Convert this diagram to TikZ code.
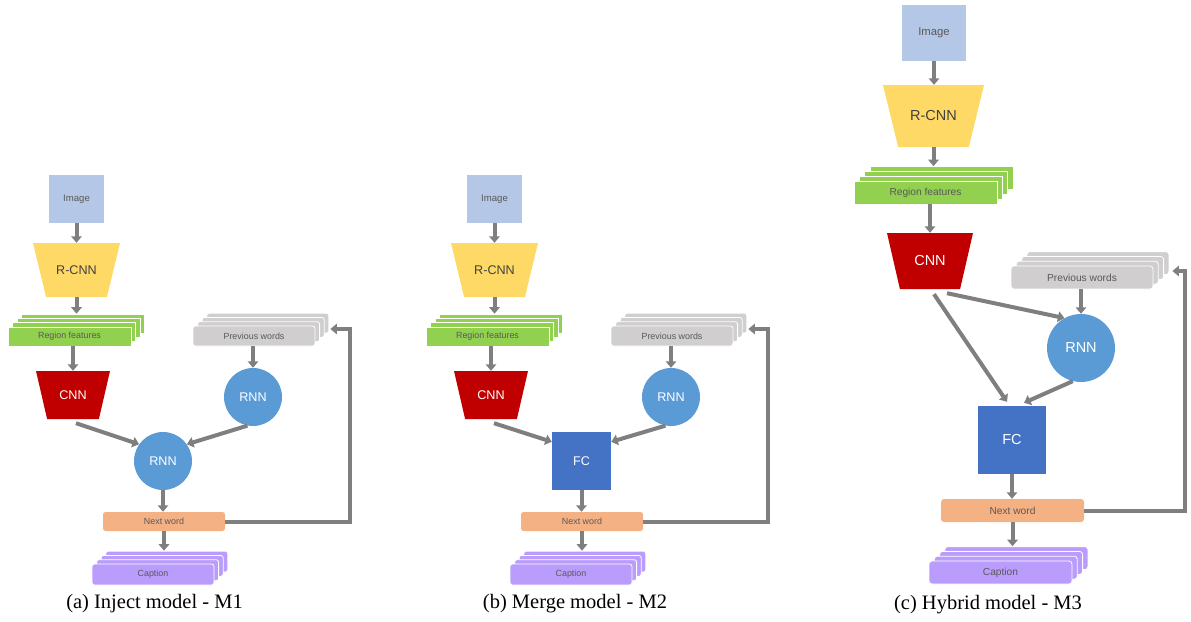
\documentclass[tikz,border=0pt]{standalone}
\usepackage{fontspec}
\setmainfont{Liberation Serif}
\newfontfamily\diagfont{Liberation Sans}
\usetikzlibrary{arrows.meta,calc,shadows}
\definecolor{arrgray}{RGB}{127,127,127}
\definecolor{imgblue}{RGB}{180,199,231}
\definecolor{rcnnyellow}{RGB}{255,217,102}
\definecolor{featgreen}{RGB}{146,208,80}
\definecolor{cnnred}{RGB}{192,0,0}
\definecolor{wordgray}{RGB}{208,206,206}
\definecolor{rnnblue}{RGB}{91,155,213}
\definecolor{fcblue}{RGB}{68,114,196}
\definecolor{nextorange}{RGB}{244,177,131}
\definecolor{capviolet}{RGB}{186,156,252}
\definecolor{txtgray}{RGB}{89,89,89}
\tikzset{
  arr/.style={-{Triangle[length=6.5pt,width=10.5pt]},line width=4pt,draw=arrgray},
  imgbox/.style={fill=imgblue,inner sep=0pt,text=txtgray},
  trap/.style={inner sep=0pt,path picture={
    \fill[#1] (path picture bounding box.north west) -- (path picture bounding box.north east)
      -- ($(path picture bounding box.south east)!0.15!(path picture bounding box.south west)$)
      -- ($(path picture bounding box.south west)!0.15!(path picture bounding box.south east)$) -- cycle;}},
  rcnn/.style={trap=rcnnyellow,text=black!75},
  cnn/.style={trap=cnnred,text=white},
  rnn/.style={circle,fill=rnnblue,text=white,inner sep=0pt},
  fc/.style={fill=fcblue,text=white,inner sep=0pt},
  nextw/.style={fill=nextorange,rounded corners=2.5pt,text=txtgray,inner sep=0pt},
  stackA/.style={fill=#1,draw=white,line width=0.8pt,inner sep=0pt,text=txtgray,
    copy shadow={shadow xshift=13.8pt,shadow yshift=12.9pt,fill=#1,draw=white},
    copy shadow={shadow xshift=9.2pt,shadow yshift=8.6pt,fill=#1,draw=white},
    copy shadow={shadow xshift=4.6pt,shadow yshift=4.3pt,fill=#1,draw=white}},
  stackC/.style={fill=#1,draw=white,line width=0.8pt,inner sep=0pt,text=txtgray,
    copy shadow={shadow xshift=15.9pt,shadow yshift=14.4pt,fill=#1,draw=white},
    copy shadow={shadow xshift=10.6pt,shadow yshift=9.6pt,fill=#1,draw=white},
    copy shadow={shadow xshift=5.3pt,shadow yshift=4.8pt,fill=#1,draw=white}},
  smA/.style={font=\diagfont\fontsize{8.9}{10}\selectfont},
  lgA/.style={font=\diagfont\fontsize{12.6}{14}\selectfont},
  imA/.style={font=\diagfont\fontsize{9.6}{11}\selectfont},
  smC/.style={font=\diagfont\fontsize{10.2}{12}\selectfont},
  lgC/.style={font=\diagfont\fontsize{14.5}{16}\selectfont},
  imC/.style={font=\diagfont\fontsize{11.3}{13}\selectfont},
  sub/.style={font=\fontsize{20.5}{24}\selectfont}
}
\begin{document}
\begin{tikzpicture}[x=1pt,y=-1pt]
  \useasboundingbox (0,0) rectangle (1191,621);

  % (a) and (b): same column, shifted
  \foreach \p/\dx in {A/0,B/418}{
    \node[imgbox,imA,minimum width=55pt,minimum height=48pt] (img\p) at (76.5+\dx,199) {Image};
    \node[rcnn,lgA,minimum width=87pt,minimum height=54pt] (rcnn\p) at (76.5+\dx,270) {R-CNN};
    \node[stackA=featgreen,smA,minimum width=123pt,minimum height=19pt] (rf\p) at (69.5+\dx,336.5) {Region features};
    \node[cnn,lgA,minimum width=74pt,minimum height=48pt] (cnn\p) at (73+\dx,395) {CNN};
    \node[stackA=wordgray,rounded corners=2.5pt,smA,minimum width=122pt,minimum height=20pt] (pw\p) at (254+\dx,336) {Previous words};
    \node[rnn,lgA,minimum size=58pt] (rnnp\p) at (253+\dx,397) {RNN};
    \node[nextw,smA,minimum width=122pt,minimum height=19pt] (nw\p) at (164+\dx,521.5) {Next word};
    \node[stackA=capviolet,rounded corners=2.5pt,smA,minimum width=122pt,minimum height=21pt] (cap\p) at (153+\dx,574.5) {Caption};

    \draw[arr] (img\p) -- (img\p |- rcnn\p.north);
    \draw[arr,shorten >=12.9pt] (rcnn\p) -- (rcnn\p |- rf\p.north);
    \draw[arr] (cnn\p |- rf\p.south) -- (cnn\p);
    \draw[arr] (rnnp\p |- pw\p.south) -- (rnnp\p);
    \draw[arr,shorten >=12.9pt] (nw\p) -- (nw\p |- cap\p.north);
    \draw[arr] (nw\p.east) -| ([xshift=35pt,yshift=7pt]pw\p.east) -- ([xshift=15pt,yshift=7pt]pw\p.east);
  }

  % (a) inject
  \node[rnn,lgA,minimum size=58pt] (rnnA) at (163,461) {RNN};
  \draw[arr] ([xshift=3pt,yshift=-4pt]cnnA.south) -- (rnnA.145);
  \draw[arr] (rnnpA.-101) -- (rnnA.35);
  \draw[arr] (rnnA) -- (rnnA |- nwA.north);
  \node[sub] (subA) at (154.5,604) {(a) Inject model - M1};

  % (b) merge
  \node[fc,lgA,minimum width=59pt,minimum height=58pt] (fcB) at (581.5,461) {FC};
  \draw[arr] ([xshift=3pt,yshift=-4pt]cnnB.south) -- ([yshift=-10pt]fcB.north west);
  \draw[arr] (rnnpB.-101) -- ([yshift=-10pt]fcB.north east);
  \draw[arr] (fcB) -- (fcB |- nwB.north);
  \node[sub] (subB) at (575,604) {(b) Merge model - M2};

  % (c) hybrid
  \node[imgbox,imC,minimum width=64pt,minimum height=56pt] (imgC) at (934,33) {Image};
  \node[rcnn,lgC,minimum width=101pt,minimum height=62pt] (rcnnC) at (933.5,116) {R-CNN};
  \node[stackC=featgreen,smC,minimum width=143pt,minimum height=23pt] (rfC) at (925.5,192.5) {Region features};
  \node[cnn,lgC,minimum width=86pt,minimum height=56pt] (cnnC) at (930,261) {CNN};
  \node[stackC=wordgray,rounded corners=3pt,smC,minimum width=142pt,minimum height=23pt] (pwC) at (1082,277.5) {Previous words};
  \node[rnn,lgC,minimum size=68pt] (rnnC) at (1081,348) {RNN};
  \node[fc,lgC,minimum width=68pt,minimum height=68pt] (fcC) at (1012,440) {FC};
  \node[nextw,smC,rounded corners=3pt,minimum width=143pt,minimum height=23pt] (nwC) at (1012.5,510.5) {Next word};
  \node[stackC=capviolet,rounded corners=3pt,smC,minimum width=143pt,minimum height=23pt] (capC) at (1000.5,572.5) {Caption};
  \node[sub] (subC) at (988,605) {(c) Hybrid model - M3};

  \draw[arr] (imgC) -- (imgC |- rcnnC.north);
  \draw[arr,shorten >=14.4pt] (rcnnC) -- (rcnnC |- rfC.north);
  \draw[arr] (cnnC |- rfC.south) -- (cnnC);
  \draw[arr] (rnnC |- pwC.south) -- (rnnC);
  \draw[arr] ([xshift=17pt,yshift=-4pt]cnnC.south) -- (rnnC.119);
  \draw[arr] ([xshift=4pt,yshift=-5pt]cnnC.south) -- ([xshift=-5pt,yshift=4pt]fcC.north);
  \draw[arr] (rnnC.256) -- ([xshift=12pt,yshift=3pt]fcC.north);
  \draw[arr] (fcC) -- (fcC |- nwC.north);
  \draw[arr,shorten >=14.4pt] (nwC) -- (nwC |- capC.north);
  \draw[arr] (nwC.east) -| ([xshift=32pt,yshift=6.5pt]pwC.east) -- ([xshift=19pt,yshift=6.5pt]pwC.east);
\end{tikzpicture}
\end{document}
